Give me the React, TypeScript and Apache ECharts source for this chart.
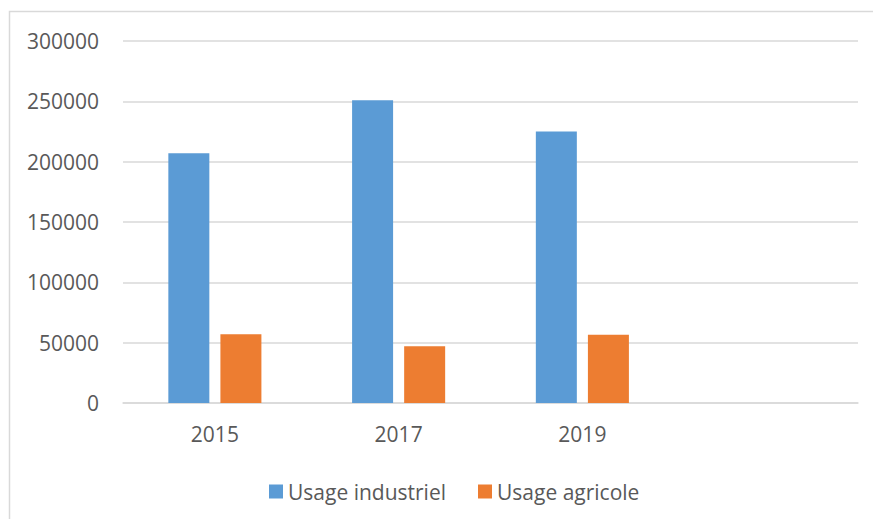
import React, { useEffect, useRef } from "react";
import * as echarts from "echarts";

const categories = ["2015", "2017", "2019", ""];
const industriel = [207000, 251000, 225000, null];
const agricole = [57000, 47000, 56500, null];
const seriesNames = ["Usage industriel", "Usage agricole"];
const yTicks = { min: 0, max: 300000, interval: 50000 };

const FONT = "'Open Sans', 'Noto Sans', sans-serif";
const TEXT = "#595959";
const GRID = "#d9d9d9";

export default function App() {
  const ref = useRef<HTMLDivElement>(null);
  useEffect(() => {
    if (!ref.current) return;
    const chart = echarts.init(ref.current, undefined, { renderer: "svg" });
    chart.setOption({
      animation: false,
      backgroundColor: "#ffffff",
      textStyle: { fontFamily: FONT },
      graphic: [
        {
          type: "rect",
          shape: { x: 9.5, y: 11.5, width: 900, height: 600 },
          style: { fill: "none", stroke: "#d9d9d9", lineWidth: 1.5 },
          silent: true,
          z: -10,
        },
      ],
      grid: { left: 123, right: 15, top: 41, bottom: 116, containLabel: false },
      legend: {
        data: seriesNames,
        left: 269,
        top: 481,
        itemWidth: 14,
        itemHeight: 14,
        itemGap: 32,
        icon: "rect",
        textStyle: { color: TEXT, fontSize: 21, fontFamily: FONT },
        padding: 0,
      },
      xAxis: {
        type: "category",
        data: categories,
        axisLine: { show: true, lineStyle: { color: GRID, width: 1.5 } },
        axisTick: { show: false },
        axisLabel: { color: TEXT, fontSize: 21, fontFamily: FONT, margin: 20 },
      },
      yAxis: {
        type: "value",
        min: yTicks.min,
        max: yTicks.max,
        interval: yTicks.interval,
        axisLine: { show: false },
        axisTick: { show: false },
        splitLine: { lineStyle: { color: GRID, width: 1.5 } },
        axisLabel: {
          color: TEXT,
          fontSize: 21,
          fontFamily: FONT,
          margin: 24,
          formatter: (v: number) => String(v),
        },
      },
      series: [
        {
          name: seriesNames[0],
          type: "bar",
          data: industriel,
          barWidth: 41,
          barGap: "27%",
          itemStyle: { color: "#5B9BD5" },
        },
        {
          name: seriesNames[1],
          type: "bar",
          data: agricole,
          barWidth: 41,
          barGap: "27%",
          itemStyle: { color: "#ED7D31" },
        },
      ],
    });
    return () => chart.dispose();
  }, []);
  return (
    <div
      ref={ref}
      style={{ position: "fixed", left: 0, top: 0, width: 873, height: 519 }}
    />
  );
}
